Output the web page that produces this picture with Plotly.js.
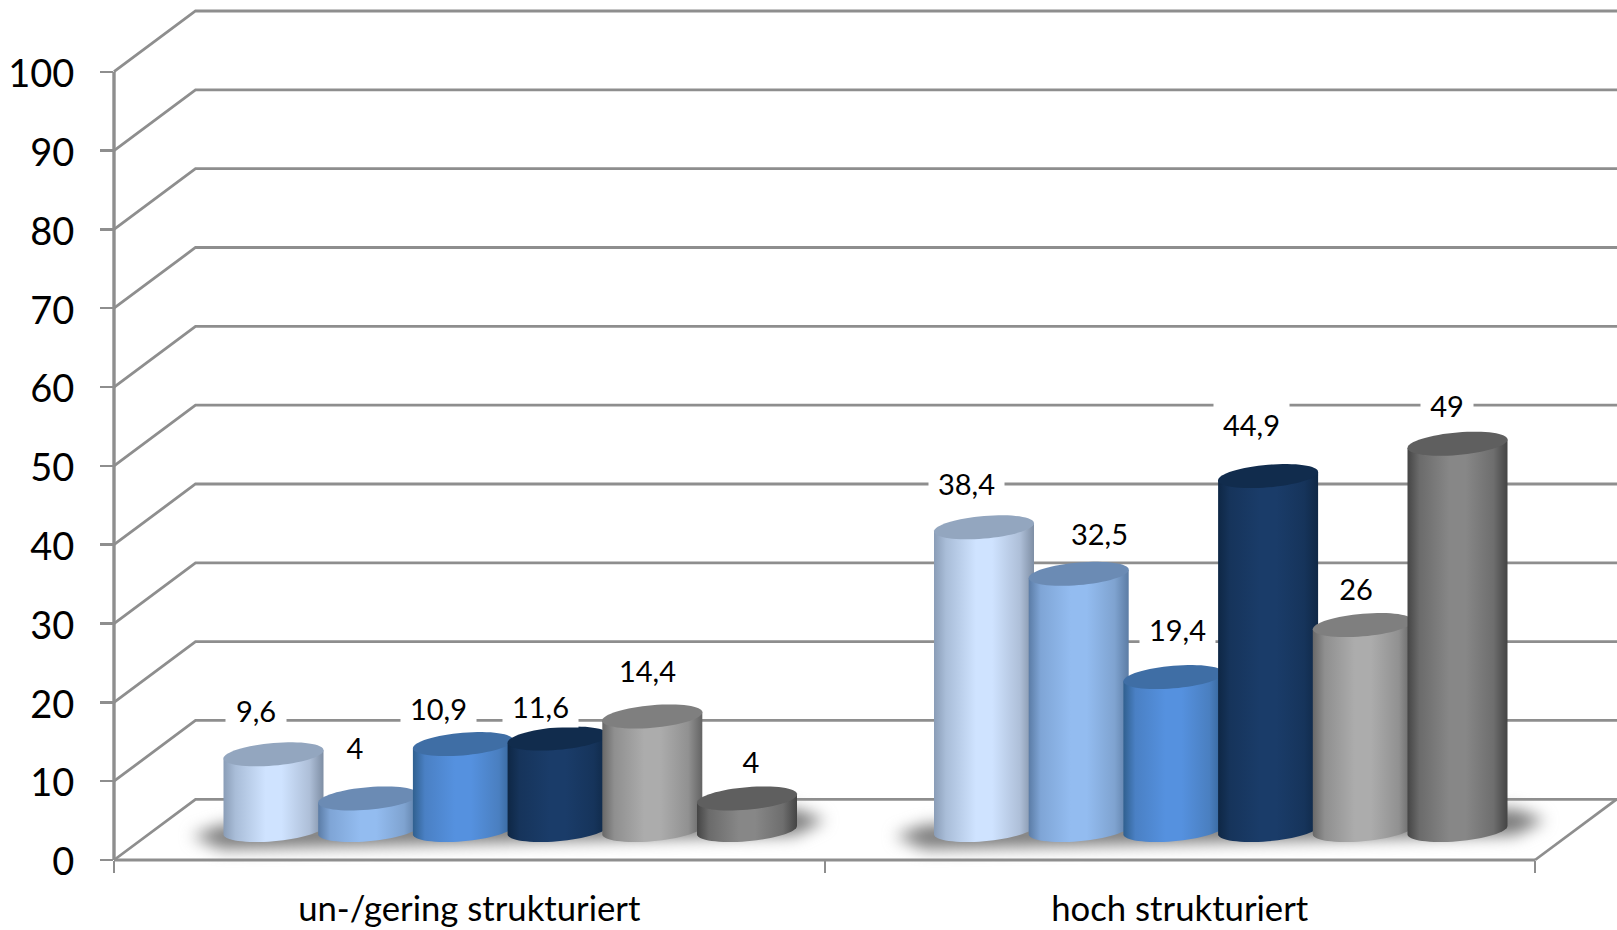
<!DOCTYPE html>
<html>
<head>
<meta charset="utf-8">
<script src="https://cdn.plot.ly/plotly-3.0.1.min.js"></script>
<style>html,body{margin:0;padding:0;background:#fff;overflow:hidden}</style>
</head>
<body>
<div id="chart" style="width:1617px;height:930px"></div>
<script>
// ---- data ----
const categories = ['un-/gering strukturiert', 'hoch strukturiert'];
const series1 = [9.6, 38.4];
const series2 = [4, 32.5];
const series3 = [10.9, 19.4];
const series4 = [11.6, 44.9];
const series5 = [14.4, 26];
const series6 = [4, 49];
const yTicks = [0, 10, 20, 30, 40, 50, 60, 70, 80, 90, 100];

// ---- styles ----
const topColors = ['#93a6bf', '#6b8bb4', '#3f6ea5', '#112c4d', '#7f7f7f', '#5f5f5f'];
const gradients = [
  ['#8a9db7', '#a9bdd8', '#cfe3ff', '#cfe3ff', '#aebfd8', '#7e8ea4'],
  ['#5b7ca6', '#7fa5d6', '#93bcf0', '#93bcf0', '#7fa3d0', '#5c7ca4'],
  ['#30608f', '#4a80c4', '#5591df', '#5591df', '#4a7fc0', '#346396'],
  ['#0e2745', '#16345b', '#1a3c69', '#1a3c69', '#16345b', '#0f2846'],
  ['#686868', '#8f8f8f', '#acacac', '#acacac', '#919191', '#636363'],
  ['#454545', '#6b6b6b', '#878787', '#878787', '#6e6e6e', '#444444']
];
const gradStops = [0, 0.12, 0.42, 0.58, 0.86, 1];
const gridColor = '#8e8e8e';
const labelFont = 'Lato, Carlito, "Open Sans", sans-serif';

// ---- scene geometry (pixels of the frame) ----
const W = 1617, H = 930, marginL = 114, marginB = 70;
const pxPerCat = 710.5, pxPerUnit = 7.883;
const depthX = 81.5 / pxPerCat, depthY = 60.7 / pxPerUnit;
const baseValue = 30 / pxPerUnit;
const barPx = 100, stepPx = 94.7, groupShiftPx = 41;
const rxPx = 50, ryPx = 11.3, tiltPx = 4.15;
const xEnd = (W - marginL) / pxPerCat, yEnd = (H - marginB) / pxPerUnit;

const allSeries = [series1, series2, series3, series4, series5, series6];
const labelShiftX = [[-18, -13, -24, -17, -5, 4], [-18, 21, 4, -17, -7, -11]];
const labelShiftY = [[44, 51, 36, 33, 46, 37], [44, 41, 48, 52, 37, 39]];
const boxWidths = {1: 32, 2: 50, 3: 58, 4: 73};

const seriesX = (c, s) => c + 0.5 + (groupShiftPx + (s - 2.5) * stepPx) / pxPerCat;
const line = (pts, width) => ({
  type: 'path', layer: 'below', xref: 'x', yref: 'y',
  path: pts.map((p, i) => (i ? 'L' : 'M') + p[0] + ',' + p[1]).join(' '),
  line: {color: gridColor, width: width || 2.8}
});

// ---- walls ----
const shapes = [];
// floor shadows, tilted slightly like the cylinder ends, tapered at both ends
[[192, 825, 836, 820], [895, 1545, 836, 820]].forEach(([a, b, ya, yb]) => {
  const X = p => (p - marginL) / pxPerCat, Y = p => (H - marginB - p) / pxPerUnit;
  const t = 11, e = 30;
  const pts = [[a, ya], [a + e, ya - t], [b - e, yb - t], [b, yb], [b - e, yb + t + 4], [a + e, ya + t + 2]];
  shapes.push({
    type: 'path', layer: 'below', xref: 'x', yref: 'y', name: 'shadow',
    path: pts.map((p, i) => (i ? 'L' : 'M') + X(p[0]) + ',' + Y(p[1])).join(' ') + ' Z',
    fillcolor: '#7a7a7a', line: {width: 0}
  });
});
yTicks.forEach(v => shapes.push(line([[0, v], [depthX, v + depthY], [xEnd, v + depthY]])));
shapes.push(line([[0, 0], [0, yTicks[yTicks.length - 1]]], 3.4));
shapes.push(line([[0, 0], [categories.length, 0]]));
shapes.push(line([[categories.length, 0], [categories.length + depthX, depthY]]));

// ---- bars, their top faces, and labels ----
const traces = [], annotations = [], topIndex = [];
allSeries.forEach((vals, s) => {
  traces.push({
    type: 'bar', x: categories.map((_, c) => seriesX(c, s)), y: vals,
    base: vals.map(() => baseValue), width: vals.map(() => barPx / pxPerCat),
    marker: {color: gradients[s][2], line: {width: 0}}, hoverinfo: 'skip', showlegend: false
  });
  vals.forEach((v, c) => {
    const cx = seriesX(c, s), cy = baseValue + v, pts = [];
    for (let k = 0; k < 64; k++) {
      const t = k / 64 * 2 * Math.PI, dx = Math.cos(t);
      pts.push((k ? 'L' : 'M') + (cx + rxPx * dx / pxPerCat) + ',' + (cy + (ryPx * Math.sin(t) + tiltPx * dx) / pxPerUnit));
    }
    topIndex.push({s: s, idx: shapes.length});
    shapes.push({type: 'path', layer: 'above', xref: 'x', yref: 'y', path: pts.join(' ') + ' Z',
      fillcolor: topColors[s], line: {width: 0}});
    const text = String(v).replace('.', ',');
    annotations.push({
      x: cx, y: cy, xref: 'x', yref: 'y', text: text, showarrow: false,
      xanchor: 'center', yanchor: 'middle', xshift: labelShiftX[c][s], yshift: labelShiftY[c][s],
      width: boxWidths[text.length], height: 40, align: 'center', valign: 'middle',
      bgcolor: '#ffffff', font: {family: labelFont, size: 29, color: '#000'}
    });
  });
});

const layout = {
  width: W, height: H, margin: {l: marginL, r: 0, t: 0, b: marginB, pad: 0},
  paper_bgcolor: '#fff', plot_bgcolor: 'rgba(0,0,0,0)', barmode: 'overlay', showlegend: false,
  xaxis: {
    range: [0, xEnd], showgrid: false, zeroline: false, showline: false,
    tickmode: 'array', tickvals: categories.map((_, c) => c + 0.5), ticktext: categories,
    ticks: '', ticklen: 0, ticklabelstandoff: 25,
    tickfont: {family: labelFont, size: 34.7, color: '#000'},
    minor: {tickmode: 'array', tickvals: [0, 1, 2], ticks: 'outside', ticklen: 12, tickwidth: 2, tickcolor: gridColor, showgrid: false}
  },
  yaxis: {
    range: [0, yEnd], showgrid: false, zeroline: false, showline: false,
    tickmode: 'array', tickvals: yTicks, ticks: 'outside', ticklen: 13, tickwidth: 2.4, tickcolor: gridColor,
    ticklabelstandoff: 18, ticklabelshift: 2, tickfont: {family: labelFont, size: 38, color: '#000'}
  },
  shapes: shapes, annotations: annotations
};

const NS = 'http://www.w3.org/2000/svg';
Plotly.newPlot('chart', traces, layout, {displayModeBar: false, staticPlot: true}).then(gd => {
  const svg = gd.querySelector('svg.main-svg');
  const defs = document.createElementNS(NS, 'defs');
  gradients.forEach((g, i) => {
    const lg = document.createElementNS(NS, 'linearGradient');
    lg.setAttribute('id', 'cyl' + i);
    g.forEach((c, j) => {
      const st = document.createElementNS(NS, 'stop');
      st.setAttribute('offset', gradStops[j]);
      st.setAttribute('stop-color', c);
      lg.appendChild(st);
    });
    defs.appendChild(lg);
  });
  svg.appendChild(defs);

  // shapes stroke on the frame edge; let them overflow the plot rectangle
  const shapePaths = {};
  gd.querySelectorAll('.shapelayer path').forEach(p => {
    for (let el = p; el && el.tagName !== 'svg'; el = el.parentNode) el.removeAttribute('clip-path');
    shapePaths[p.getAttribute('data-index')] = p;
  });
  [0, 1].forEach(i => { shapePaths[i].style.filter = 'blur(8px)'; });

  // turn each bar rectangle into a cylinder silhouette, and layer its top face with it
  const barGroups = gd.querySelectorAll('.barlayer .trace');
  barGroups.forEach((g, s) => {
    g.querySelectorAll('.point path').forEach(p => {
      const n = p.getAttribute('d').match(/-?\d+(\.\d+)?/g).map(Number);
      const xl = n[0], yb = n[1], yt = n[2], xr = n[3];
      const cx = (xl + xr) / 2, rx = (xr - xl) / 2;
      let d = 'M' + xl + ',' + (yt + tiltPx) + ' L' + xr + ',' + (yt - tiltPx);
      for (let k = 0; k <= 32; k++) {
        const t = k / 32 * Math.PI, c = Math.cos(t);
        d += ' L' + (cx + rx * c) + ',' + (yb + ryPx * Math.sin(t) - tiltPx * c);
      }
      p.setAttribute('d', d + ' Z');
      p.style.fill = 'url(#cyl' + s + ')';
      p.style.stroke = 'none';
    });
    topIndex.filter(t => t.s === s).forEach(t => {
      const el = shapePaths[t.idx];
      el.setAttribute('transform', 'translate(' + (-marginL) + ',0)');
      g.appendChild(el);
    });
  });
});
</script>
</body>
</html>
